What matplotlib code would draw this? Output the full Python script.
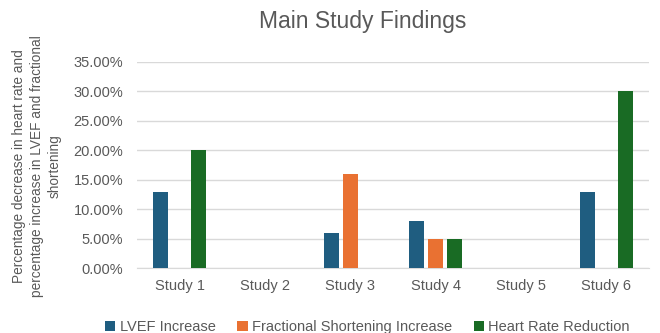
import numpy as np
import matplotlib.pyplot as plt
from matplotlib.ticker import PercentFormatter

plt.rcParams['font.family'] = ['Liberation Sans', 'DejaVu Sans']

# study findings, percent values per study
studies = ['Study 1', 'Study 2', 'Study 3', 'Study 4', 'Study 5', 'Study 6']
lvef = [13, 0, 6, 8, 0, 13]
fractional = [0, 0, 16, 5, 0, 0]
heart_rate = [20, 0, 0, 5, 0, 30]

series = [('LVEF Increase', lvef, '#1f5d80'),
          ('Fractional Shortening Increase', fractional, '#e97132'),
          ('Heart Rate Reduction', heart_rate, '#196b24')]

fig = plt.figure(figsize=(6.6, 3.33), dpi=100)
ax = fig.add_axes([0.2076, 0.1943, 0.776, 0.620])

x = np.arange(len(studies))
width = 0.176
step = 0.222
for i, (name, vals, col) in enumerate(series):
    ax.bar(x + (i - 1) * step, vals, width, color=col, label=name, zorder=3)

ax.set_xlim(-0.5, len(studies) - 0.5)
ax.set_ylim(0, 35)
ax.set_yticks(np.arange(0, 36, 5))
ax.yaxis.set_major_formatter(PercentFormatter(decimals=2))
ax.set_xticks(x)
ax.set_xticklabels(studies)
ax.grid(axis='y', color='#d9d9d9', linewidth=1, zorder=0)
for s in ['top', 'right', 'left']:
    ax.spines[s].set_visible(False)
ax.spines['bottom'].set_color('#d9d9d9')
ax.tick_params(axis='both', length=0, labelsize=10.5, colors='#595959')
ax.tick_params(axis='y', pad=10)
ax.tick_params(axis='x', pad=8)

# three-line axis title, placed by hand on the figure
fig.text(0.056, 0.5,
         'Percentage decrease in heart rate and\npercentage increase in LVEF and fractional\nshortening',
         rotation=90, ha='center', va='center', multialignment='center',
         fontsize=9.8, color='#595959', linespacing=1.35)

fig.text(0.55, 0.935, 'Main Study Findings', ha='center', va='center',
         fontsize=16.5, color='#595959')

ax.legend(loc='center', bbox_to_anchor=(0.45, -0.285), ncol=3, frameon=False,
          fontsize=10.5, labelcolor='#595959', handlelength=0.7, handleheight=0.7,
          handletextpad=0.3, columnspacing=1.5)

fig.savefig('out.png', dpi=100)
